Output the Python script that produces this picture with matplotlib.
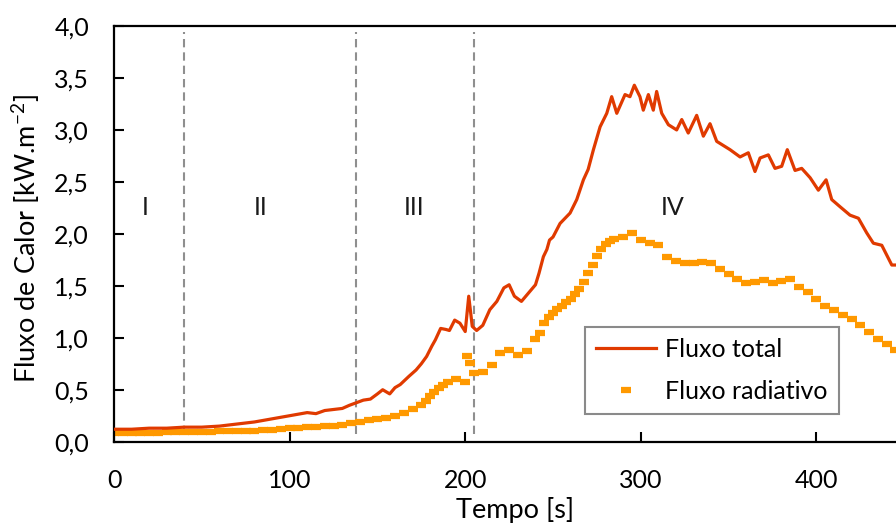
import matplotlib
matplotlib.use("Agg")
import matplotlib.pyplot as plt

# ---------------- data ----------------
total_t = [0, 10, 20, 30, 40, 50, 60, 70, 80, 90, 100, 110, 115, 120, 130, 134, 138, 142,
           146, 150, 153, 157, 160, 163, 168, 172, 175, 178, 181, 183, 186, 189, 191, 194,
           197, 200, 202, 204, 206.5, 210, 214, 218, 222, 225, 228, 232, 236, 240, 242,
           244.5, 246.5, 248, 250, 254, 259.7, 263.5, 267.3, 270, 273, 276.8, 280.6, 283.4,
           286.3, 291, 293.8, 296.3, 299.5, 301.4, 304.3, 307.1, 309, 311.9, 315.7, 320.4,
           323.3, 327, 331.8, 335.6, 339.4, 343.2, 345.1, 350.8, 356.5, 361.2, 365, 367.9,
           372.6, 376.4, 380.2, 383.4, 387.8, 391.6, 396.4, 401.1, 405.5, 408.7, 413.5,
           419.1, 423.9, 428.6, 432.4, 437.2, 442.9, 446]
total_v = [0.12, 0.12, 0.13, 0.13, 0.14, 0.14, 0.15, 0.17, 0.19, 0.22, 0.25, 0.28, 0.27, 0.30,
           0.32, 0.35, 0.375, 0.40, 0.41, 0.46, 0.50, 0.46, 0.52, 0.55, 0.63, 0.69, 0.75, 0.82,
           0.92, 0.98, 1.09, 1.08, 1.07, 1.17, 1.14, 1.06, 1.40, 1.11, 1.07, 1.12, 1.27, 1.35,
           1.48, 1.51, 1.40, 1.35, 1.43, 1.51, 1.62, 1.78, 1.85, 1.94, 1.97, 2.10, 2.20, 2.33,
           2.52, 2.62, 2.81, 3.03, 3.16, 3.32, 3.16, 3.34, 3.32, 3.43, 3.32, 3.19, 3.34, 3.19,
           3.37, 3.16, 3.05, 3.00, 3.10, 2.97, 3.14, 2.94, 3.06, 2.89, 2.87, 2.81, 2.74, 2.78,
           2.60, 2.73, 2.76, 2.63, 2.65, 2.81, 2.61, 2.63, 2.54, 2.42, 2.52, 2.33, 2.26, 2.18,
           2.15, 2.01, 1.91, 1.89, 1.70, 1.70]

rad_t = [0, 5, 10, 15, 20, 25, 30, 35, 40, 45, 50, 55, 60, 65, 70, 75, 80, 85, 90, 95, 100,
         105, 110, 115, 120, 125, 130, 135, 140, 145, 150, 155, 160, 165, 170, 175, 177.5,
         180, 182.5, 185, 187.5, 190, 195, 200, 201, 203, 205, 210, 215, 220, 225, 230, 235,
         240, 242.5, 245, 247.5, 250, 252.5, 255, 257.5, 260, 262.5, 265, 267.5, 270, 272.5,
         275, 277.5, 280, 282.5, 285, 290, 295, 300, 305, 310, 315, 320, 325, 330, 335, 340,
         345, 350, 355, 360, 365, 370, 375, 380, 385, 390, 395, 400, 405, 410, 415, 420, 425,
         430, 435, 440, 445]
rad_v = [0.08, 0.08, 0.08, 0.08, 0.08, 0.08, 0.09, 0.09, 0.09, 0.09, 0.09, 0.09, 0.10, 0.10,
         0.10, 0.10, 0.10, 0.11, 0.11, 0.12, 0.13, 0.13, 0.14, 0.14, 0.15, 0.15, 0.16, 0.18,
         0.19, 0.21, 0.22, 0.23, 0.25, 0.28, 0.31, 0.35, 0.39, 0.44, 0.48, 0.52, 0.55, 0.57,
         0.60, 0.57, 0.82, 0.76, 0.66, 0.67, 0.74, 0.85, 0.88, 0.83, 0.87, 0.99, 1.05, 1.14,
         1.20, 1.24, 1.28, 1.31, 1.34, 1.37, 1.42, 1.47, 1.54, 1.62, 1.70, 1.79, 1.85, 1.90,
         1.93, 1.95, 1.97, 2.01, 1.94, 1.91, 1.89, 1.78, 1.74, 1.72, 1.72, 1.73, 1.72, 1.66,
         1.61, 1.57, 1.53, 1.54, 1.56, 1.53, 1.55, 1.57, 1.49, 1.44, 1.37, 1.31, 1.27, 1.22,
         1.18, 1.12, 1.06, 0.99, 0.94, 0.88]

phase_bounds = [40, 138, 205]
phase_labels = ["I", "II", "III", "IV"]
phase_label_x = [17.7, 83.7, 171, 318]
phase_label_y = 2.25

x_ticks = [0, 100, 200, 300, 400]
y_ticks = [0.0, 0.5, 1.0, 1.5, 2.0, 2.5, 3.0, 3.5, 4.0]
y_tick_labels = ["0,0", "0,5", "1,0", "1,5", "2,0", "2,5", "3,0", "3,5", "4,0"]

# ---------------- plot ----------------
plt.rcParams['font.family'] = ['Lato', 'DejaVu Sans']
plt.rcParams['lines.scale_dashes'] = False
FS = 18
FS_TITLE = 19.5

fig = plt.figure(figsize=(8.96, 5.27), dpi=100)
ax_h = (441.7 - 26) / 527
ax = fig.add_axes([114 / 896, 85.3 / 527, 1 - 114 / 896, ax_h])

RED = '#E03A00'
ORANGE = '#FF9900'

for b in phase_bounds:
    ax.plot([b, b], [0.07, 3.94], color='#8F8F8F', lw=1.5, dashes=(6, 3.6), zorder=1)

ax.plot(total_t, total_v, color=RED, lw=2.3, label='Fluxo total', zorder=3)
ax.plot(rad_t, rad_v, linestyle='none', marker='_', markersize=7.5, markeredgewidth=4.5,
        color=ORANGE, label='Fluxo radiativo', zorder=2)

for lab, lx in zip(phase_labels, phase_label_x):
    ax.text(lx, phase_label_y, lab, ha='center', va='center', fontsize=FS, color='#1a1a1a')

ax.set_xlim(0, 445.3)
ax.set_ylim(0, 4.0)
ax.set_xticks(x_ticks)
ax.set_yticks(y_ticks)
ax.set_yticklabels(y_tick_labels)

for s in ['left', 'bottom', 'top']:
    ax.spines[s].set_linewidth(1.6)
    ax.spines[s].set_color('black')
ax.spines['right'].set_visible(False)

ax.tick_params(axis='both', direction='in', length=7, width=1.5, labelsize=FS, colors='black')
ax.tick_params(axis='x', pad=20)
ax.tick_params(axis='y', pad=18)

ax.set_xlabel('Tempo [s]', fontsize=FS_TITLE)
ax.xaxis.set_label_coords((515 - 114) / 782, 1 - (497 - 26) / 415.7)
ax.xaxis.label.set_va('top')
ax.set_ylabel('Fluxo de Calor [kW.m$^{\\mathregular{-2}}$]', fontsize=FS_TITLE)
ax.yaxis.set_label_coords((26 - 114) / 782, (441.7 - 238) / 415.7)
ax.yaxis.label.set_va('center')

leg = ax.legend(loc='upper left', bbox_to_anchor=(585 / 896, 1 - 326.7 / 527),
                bbox_transform=fig.transFigure, fontsize=FS, frameon=True, fancybox=False,
                framealpha=1, edgecolor='#8a8a8a', numpoints=1, handlelength=2.4,
                handletextpad=0.35, labelspacing=0.75, borderpad=0.45, borderaxespad=0)
leg.get_frame().set_linewidth(1.5)

fig.savefig('out.png', dpi=100)
